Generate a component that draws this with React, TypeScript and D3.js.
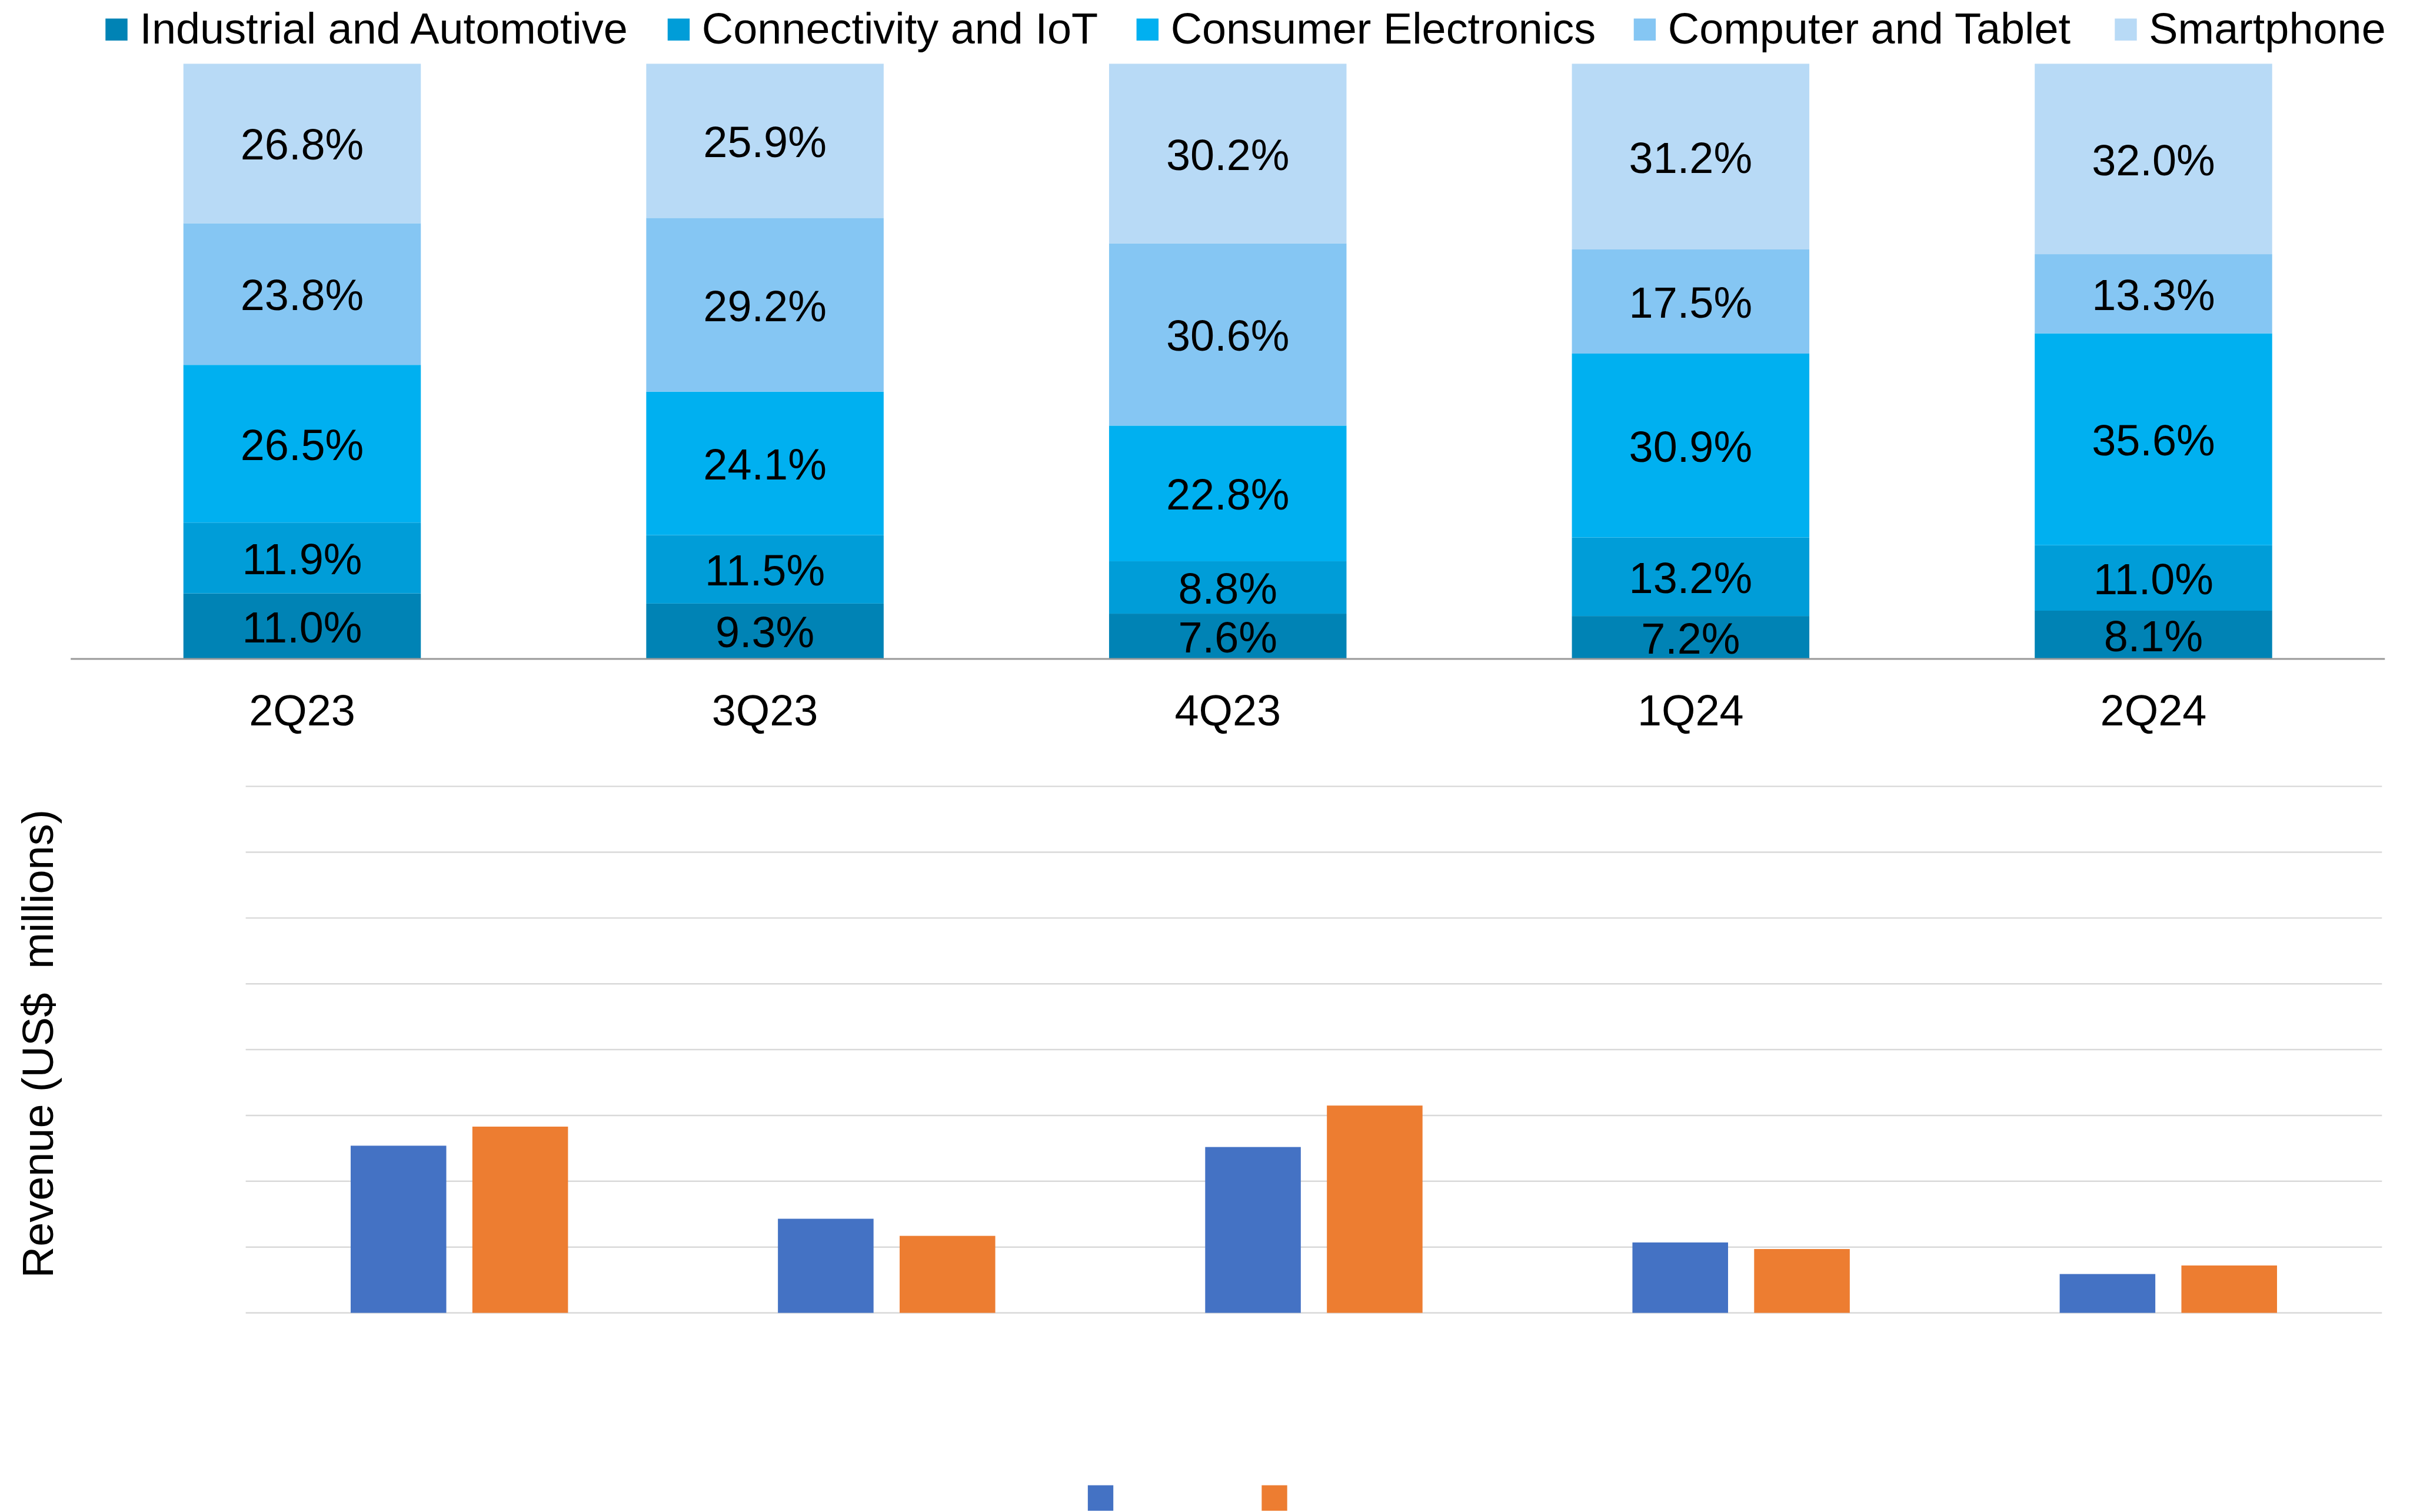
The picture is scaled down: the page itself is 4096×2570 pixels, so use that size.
import * as d3 from "d3"

// quarters shown on both panels
const quarters = ["2Q23", "3Q23", "4Q23", "1Q24", "2Q24"]

// revenue mix by application (%), bottom segment first
const segmentNames = [
    "Industrial and Automotive",
    "Connectivity and IoT",
    "Consumer Electronics",
    "Computer and Tablet",
    "Smartphone"
]
const segmentColors = ["#0083B5", "#009DD8", "#00B0F0", "#85C6F3", "#B8DAF6"]
const industrial = [11.0, 9.3, 7.6, 7.2, 8.1]
const connectivity = [11.9, 11.5, 8.8, 13.2, 11.0]
const consumer = [26.5, 24.1, 22.8, 30.9, 35.6]
const computer = [23.8, 29.2, 30.6, 17.5, 13.3]
const smartphone = [26.8, 25.9, 30.2, 31.2, 32.0]

// revenue (US$ millions), two unnamed series
const revenueSeries = ["a", "b"]
const revenueColors = ["#4472C4", "#ED7D31"]
const revenueA = [254, 143, 252, 107, 59]
const revenueB = [283, 117, 315, 97, 72]
const revenueTicks = [0, 100, 200, 300, 400, 500, 600, 700, 800]

const W = 4155
const H = 2607
const S = 0.985
const FONT = "'Liberation Sans', Arial, sans-serif"
const FS = 75

// legend swatch left edges (layout)
const legendX = [182, 1152, 1961, 2819, 3649]

export default function App() {
    // top chart: 100% stacked columns
    const mixRows = quarters.map((q, i) => ({
        quarter: q,
        [segmentNames[0]]: industrial[i],
        [segmentNames[1]]: connectivity[i],
        [segmentNames[2]]: consumer[i],
        [segmentNames[3]]: computer[i],
        [segmentNames[4]]: smartphone[i]
    }))
    const stacked = d3.stack().keys(segmentNames)(mixRows as any)

    const x = d3.scaleBand(quarters, [122, 4115]).paddingInner(0.487).paddingOuter(0.2435)
    const y = d3.scaleLinear([0, 100], [1137, 110])

    // bottom chart: clustered columns
    const x0 = d3.scaleBand(quarters, [424, 4110]).paddingInner(0.4913).paddingOuter(0.2456)
    const x1 = d3.scaleBand(revenueSeries, [0, x0.bandwidth()]).paddingInner(0.2143)
    const y2 = d3.scaleLinear([0, 800], [2265.5, 1357])
    const revenueRows = quarters.map((q, i) => ({ quarter: q, values: [revenueA[i], revenueB[i]] }))

    return (
        <svg
            width={W * S}
            height={H * S}
            viewBox={`0 0 ${W} ${H}`}
            style={{ position: "absolute", left: 0, top: 0, background: "#fff" }}
            fontFamily={FONT}
        >
            {/* Legend for the mix chart */}
            {segmentNames.map((name, i) => (
                <g key={name}>
                    <rect x={legendX[i]} y={32} width={38} height={38} fill={segmentColors[i]} />
                    <text x={legendX[i] + 59} y={75} fontSize={FS} fill="#000">{name}</text>
                </g>
            ))}

            {/* Stacked segments */}
            {stacked.map((layer, li) => (
                <g key={layer.key} fill={segmentColors[li]}>
                    {layer.map((seg, i) => (
                        <rect
                            key={i}
                            x={x(quarters[i])}
                            y={y(seg[1])}
                            width={x.bandwidth()}
                            height={y(seg[0]) - y(seg[1])}
                        />
                    ))}
                </g>
            ))}

            {/* Segment labels */}
            {stacked.map(layer => (
                <g key={layer.key + "-lbl"}>
                    {layer.map((seg, i) => (
                        <text
                            key={i}
                            x={(x(quarters[i]) ?? 0) + x.bandwidth() / 2}
                            y={(y(seg[0]) + y(seg[1])) / 2 + 28}
                            textAnchor="middle"
                            fontSize={FS}
                            fill="#000"
                        >
                            {(seg[1] - seg[0]).toFixed(1)}%
                        </text>
                    ))}
                </g>
            ))}

            {/* Category axis */}
            <line x1={122} x2={4115} y1={1137} y2={1137} stroke="#999" strokeWidth={3} />
            {quarters.map(q => (
                <text
                    key={q}
                    x={(x(q) ?? 0) + x.bandwidth() / 2}
                    y={1252}
                    textAnchor="middle"
                    fontSize={FS}
                    fill="#000"
                >
                    {q}
                </text>
            ))}

            {/* Revenue gridlines */}
            {revenueTicks.map(t => (
                <line key={t} x1={424} x2={4110} y1={y2(t)} y2={y2(t)} stroke="#D9D9D9" strokeWidth={2.5} />
            ))}

            {/* Revenue bars */}
            {revenueRows.map(row => (
                <g key={row.quarter} transform={`translate(${x0(row.quarter)},0)`}>
                    {row.values.map((v, j) => (
                        <rect
                            key={j}
                            x={x1(revenueSeries[j])}
                            y={y2(v)}
                            width={x1.bandwidth()}
                            height={y2(0) - y2(v)}
                            fill={revenueColors[j]}
                        />
                    ))}
                </g>
            ))}

            {/* Y axis title */}
            <text
                transform="translate(91,1801) rotate(-90)"
                textAnchor="middle"
                fontSize={FS}
                fill="#000"
                style={{ whiteSpace: "pre" }}
            >
                Revenue (US$  millions)
            </text>

            {/* Revenue legend swatches (labels are blank in the source) */}
            {revenueColors.map((c, j) => (
                <rect key={c} x={1877 + j * 300} y={2563} width={44} height={44} fill={c} />
            ))}
        </svg>
    )
}
